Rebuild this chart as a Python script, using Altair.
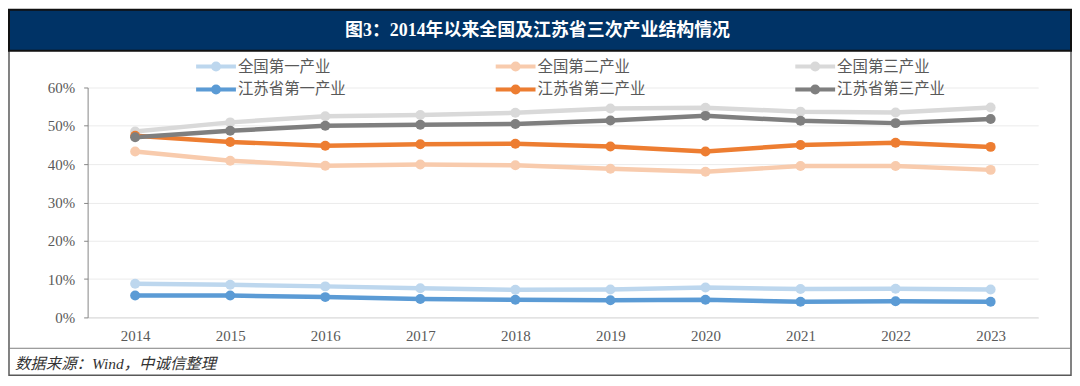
import altair as alt
import pandas as pd

years = ["2014", "2015", "2016", "2017", "2018", "2019", "2020", "2021", "2022", "2023"]
series_names = ["全国第一产业", "全国第二产业", "全国第三产业", "江苏省第一产业", "江苏省第二产业", "江苏省第三产业"]
series_colors = ["#BDD7EE", "#F8CBAD", "#D9D9D9", "#5B9BD5", "#ED7D31", "#7F7F7F"]
# legend is laid out column by column
legend_order = ["全国第一产业", "江苏省第一产业", "全国第二产业", "江苏省第二产业", "全国第三产业", "江苏省第三产业"]

nat_primary = [8.8, 8.5, 8.1, 7.6, 7.2, 7.3, 7.8, 7.4, 7.5, 7.3]
nat_secondary = [43.3, 40.9, 39.6, 39.9, 39.7, 38.8, 38.0, 39.5, 39.5, 38.5]
nat_tertiary = [48.5, 50.9, 52.5, 52.8, 53.4, 54.5, 54.7, 53.7, 53.5, 54.8]
js_primary = [5.7, 5.7, 5.3, 4.8, 4.6, 4.5, 4.6, 4.1, 4.2, 4.1]
js_secondary = [47.4, 45.8, 44.8, 45.2, 45.3, 44.6, 43.3, 45.0, 45.6, 44.5]
js_tertiary = [47.0, 48.7, 50.0, 50.3, 50.5, 51.4, 52.6, 51.3, 50.7, 51.8]

title_text = "图3：2014年以来全国及江苏省三次产业结构情况"
source_text = "数据来源：Wind，中诚信整理"

all_series = [nat_primary, nat_secondary, nat_tertiary, js_primary, js_secondary, js_tertiary]
rows = []
for i, (name, vals) in enumerate(zip(series_names, all_series)):
    for y, v in zip(years, vals):
        rows.append({"year": y, "series": name, "value": v / 100.0, "z": i})
df = pd.DataFrame(rows)

W, H = 955, 231
PAD_L, PAD_T, PAD_R, PAD_B = 80, 79, 34, 60

color_scale = alt.Scale(domain=legend_order, range=[series_colors[series_names.index(s)] for s in legend_order])

color = alt.Color(
    "series:N",
    scale=color_scale,
    sort=legend_order,
    legend=alt.Legend(
        title=None,
        orient="none",
        legendX=107,
        legendY=-33,
        columns=3,
        columnPadding=142,
        rowPadding=-1,
        symbolType="M-1,0L3,0M0.7,0a0.3,0.3 0 1,0 0.6,0a0.3,0.3 0 1,0 -0.6,0",
        symbolSize=400,
        symbolStrokeWidth=4,
        labelFont="Noto Sans CJK SC",
        labelFontSize=15.5,
        labelColor="#595959",
        labelOffset=20,
    ),
)

x = alt.X(
    "year:O",
    sort=years,
    scale=alt.Scale(type="point", padding=0.5),
    axis=alt.Axis(
        title=None,
        labelAngle=0,
        labelFont="Liberation Serif",
        labelFontSize=15,
        labelColor="#595959",
        labelPadding=11,
        ticks=False,
        domainColor="#D9D9D9",
        grid=False,
    ),
)
y = alt.Y(
    "value:Q",
    scale=alt.Scale(domain=[0, 0.6], nice=False),
    axis=alt.Axis(
        title=None,
        format=".0%",
        values=[0, 0.1, 0.2, 0.3, 0.4, 0.5, 0.6],
        labelFont="Liberation Serif",
        labelFontSize=15,
        labelColor="#595959",
        labelPadding=9,
        tickSize=4,
        tickColor="#868686",
        domainColor="#868686",
        gridColor="#EBEBEB",
        gridWidth=1,
    ),
)

base = alt.Chart(df).encode(x=x, y=y, color=color)
lines = base.mark_line(strokeWidth=4.5).encode(detail="z:O")
points = base.mark_circle(size=100, opacity=1).encode()

one = alt.Data(values=[{"a": 1}])

frame = alt.Chart(one).mark_rect(fillOpacity=0, stroke="#595959", strokeWidth=1.5).encode(
    x=alt.value(-PAD_L + 1), x2=alt.value(W + PAD_R - 1), y=alt.value(-PAD_T + 1), y2=alt.value(H + PAD_B - 2)
)
banner = alt.Chart(one).mark_rect(fill="#003366", stroke="#111111", strokeWidth=2).encode(
    x=alt.value(-PAD_L + 1), x2=alt.value(W + PAD_R - 1), y=alt.value(-PAD_T + 1), y2=alt.value(-37)
)
title = alt.Chart(one).mark_text(
    text=title_text, font="Liberation Serif, Noto Sans CJK SC", fontSize=18, fontWeight="bold",
    color="white", align="center", baseline="middle"
).encode(x=alt.value(452), y=alt.value(-57))
sep = alt.Chart(one).mark_rule(color="#7F7F7F", strokeWidth=1).encode(
    x=alt.value(-PAD_L + 1), x2=alt.value(W + PAD_R - 1), y=alt.value(262)
)
source = alt.Chart(one).mark_text(
    text=source_text, font="Liberation Serif, Noto Sans CJK SC", fontSize=15.5, fontStyle="italic",
    color="#333333", align="left", baseline="middle"
).encode(x=alt.value(-73), y=alt.value(278))

chart = alt.layer(frame, banner, title, sep, source, lines, points).properties(
    width=W,
    height=H,
    padding={"left": PAD_L, "top": PAD_T, "right": PAD_R, "bottom": PAD_B},
    autosize=alt.AutoSizeParams(type="none"),
).configure_view(stroke=None)

chart.save("out.html", embed_options={"renderer": "svg", "actions": False})
